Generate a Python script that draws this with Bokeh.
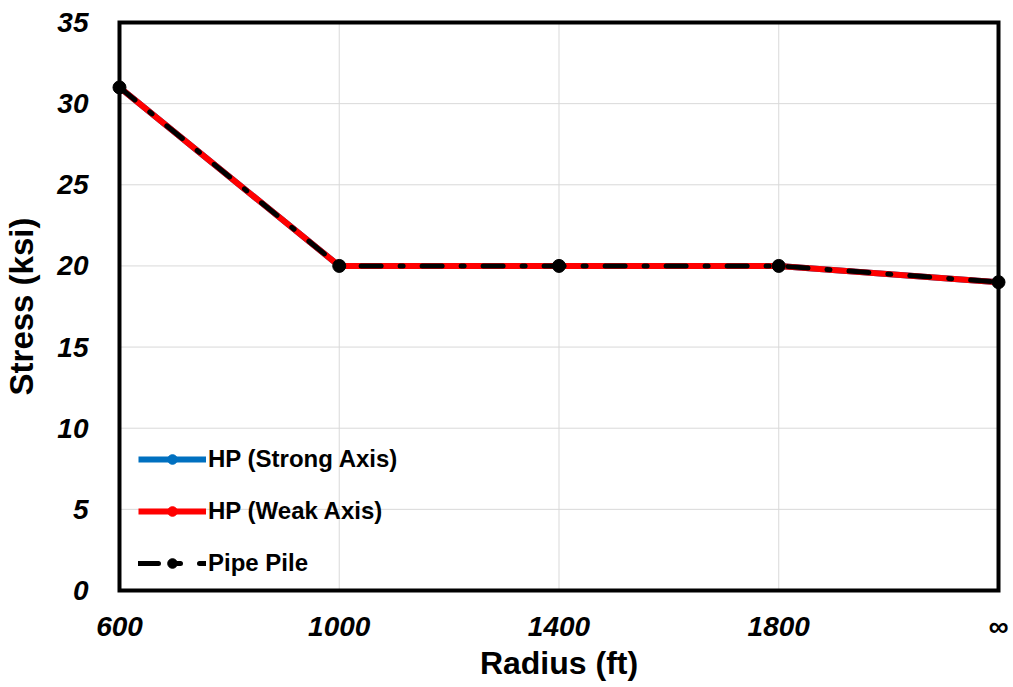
from bokeh.plotting import figure
from bokeh.models import Range1d, FixedTicker, Legend, LegendItem
from bokeh.embed import file_html
from bokeh.resources import INLINE

radius_labels = ["600", "1000", "1400", "1800", "\u221e"]
hp_strong = [31, 20, 20, 20, 19]
hp_weak = [31, 20, 20, 20, 19]
pipe_pile = [31, 20, 20, 20, 19]
y_ticks = [0, 5, 10, 15, 20, 25, 30, 35]

x = list(range(len(radius_labels)))
x_max = len(radius_labels) - 1
y_max = y_ticks[-1]

# small padding (8 px) around the data box so edge markers/frame are not clipped
PW, PH = 880, 568
pad_x = x_max * 8 / PW
pad_y = y_max * 8 / PH

p = figure(width=1013, height=687, output_backend="svg", toolbar_location=None,
           x_range=Range1d(-pad_x, x_max + pad_x), y_range=Range1d(-pad_y, y_max + pad_y),
           min_border_left=110, min_border_right=7, min_border_top=14, min_border_bottom=89)

p.outline_line_color = None
p.xgrid.grid_line_color = None
p.ygrid.grid_line_color = None

FONT = "Liberation Sans"
for ax in (p.xaxis[0], p.yaxis[0]):
    ax.axis_line_color = None
    ax.major_tick_line_color = None
    ax.minor_tick_line_color = None
    ax.major_label_text_font = FONT
    ax.major_label_text_font_style = "bold italic"
    ax.major_label_text_font_size = "28px"
    ax.major_label_text_color = "black"
    ax.axis_label_text_font = FONT
    ax.axis_label_text_font_style = "bold"
    ax.axis_label_text_font_size = "32px"
    ax.axis_label_text_color = "black"

p.xaxis.ticker = FixedTicker(ticks=x)
p.xaxis.major_label_overrides = {i: lab for i, lab in enumerate(radius_labels)}
p.xaxis.major_label_standoff = 6
p.xaxis.axis_label = "Radius (ft)"
p.xaxis.axis_label_standoff = 0

p.yaxis.ticker = FixedTicker(ticks=y_ticks)
p.yaxis.major_label_standoff = 17
p.yaxis.axis_label = "Stress (ksi)"
p.yaxis.axis_label_standoff = 14
p.yaxis.axis_label_text_font_size = "33px"

# gridlines inside the data box
p.segment(x0=x, x1=x, y0=[0] * len(x), y1=[y_max] * len(x), line_color="#d9d9d9", line_width=1)
p.segment(x0=[0] * len(y_ticks), x1=[x_max] * len(y_ticks), y0=y_ticks, y1=y_ticks,
          line_color="#d9d9d9", line_width=1)

# black frame around the data box
p.quad(left=[0], right=[x_max], bottom=[0], top=[y_max], fill_color=None,
       line_color="black", line_width=4, line_join="miter")

l1 = p.line(x, hp_strong, line_color="#0070c0", line_width=6)
c1 = p.scatter(x, hp_strong, size=10, color="#0070c0")
l2 = p.line(x, hp_weak, line_color="#ff0000", line_width=6)
c2 = p.scatter(x, hp_weak, size=10, color="#ff0000")
l3 = p.line(x, pipe_pile, line_color="black", line_width=5, line_dash="20 19 3 19",
            line_cap="round")
c3 = p.scatter(x, pipe_pile, size=13, color="black")

legend = Legend(items=[
    LegendItem(label="HP (Strong Axis)", renderers=[l1, c1]),
    LegendItem(label="HP (Weak Axis)", renderers=[l2, c2]),
    LegendItem(label="Pipe Pile", renderers=[l3, c3]),
], location=(27, 21))
legend.background_fill_alpha = 0
legend.border_line_color = None
legend.label_text_font = FONT
legend.label_text_font_style = "bold"
legend.label_text_font_size = "24px"
legend.label_text_color = "black"
legend.glyph_width = 68
legend.glyph_height = 24
legend.spacing = 24
legend.label_standoff = 2
legend.margin = 0
legend.padding = 0
p.add_layout(legend)

open("out.html", "w").write(file_html(p, INLINE))
